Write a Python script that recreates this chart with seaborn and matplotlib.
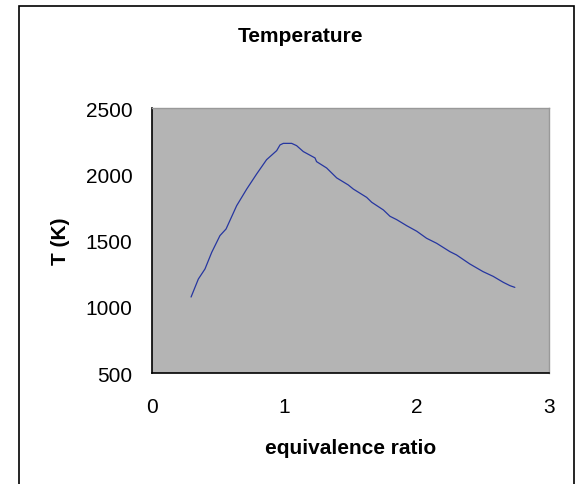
import numpy as np
import pandas as pd
import matplotlib
matplotlib.use('Agg')
import matplotlib.pyplot as plt
import matplotlib.patches as patches
import seaborn as sns

# 데이터
phi = [0.297, 0.352, 0.402, 0.453, 0.515, 0.561, 0.641, 0.717, 0.792, 0.867,
       0.943, 0.968, 0.993, 1.056, 1.093, 1.144, 1.232, 1.244, 1.32, 1.396,
       1.483, 1.521, 1.622, 1.66, 1.748, 1.798, 1.848, 1.924, 2.0, 2.074,
       2.15, 2.25, 2.30, 2.40, 2.50, 2.577, 2.653, 2.703, 2.74]
temp = [1074, 1210, 1286, 1412, 1538, 1588, 1764, 1890, 2004, 2112,
        2180, 2223, 2235, 2235, 2218, 2173, 2125, 2097, 2049, 1974,
        1921, 1890, 1827, 1790, 1732, 1684, 1659, 1613, 1571, 1518,
        1480, 1417, 1392, 1324, 1266, 1230, 1185, 1160, 1147]
x_ticks = [0, 1, 2, 3]
y_ticks = [500, 1000, 1500, 2000, 2500]

df = pd.DataFrame({'phi': phi, 'T': temp})

sns.set_style('white')
plt.rcParams['font.family'] = ['Liberation Sans', 'DejaVu Sans']
plt.rcParams['text.color'] = 'black'
plt.rcParams['axes.labelcolor'] = 'black'
plt.rcParams['xtick.color'] = 'black'
plt.rcParams['ytick.color'] = 'black'

fig = plt.figure(figsize=(5.76, 4.85), dpi=100)
ax = fig.add_axes([151.7 / 576, 1 - 374 / 485, (549.3 - 151.7) / 576, (374 - 109.3) / 485])
ax.set_facecolor('#b4b4b4')

sns.lineplot(data=df, x='phi', y='T', ax=ax, color='#2636a0', linewidth=0.9)

ax.set_xlim(0, 3)
ax.set_ylim(500, 2500)
ax.set_xticks(x_ticks)
ax.set_yticks(y_ticks)
ax.tick_params(axis='both', labelsize=15, length=6, width=1, direction='out',
               color='black', labelcolor='black')
ax.tick_params(axis='x', pad=11)
ax.tick_params(axis='y', pad=8)

# 축선: 왼쪽/아래 검정, 위/오른쪽 회색
for side in ['left', 'bottom']:
    ax.spines[side].set_color('black')
    ax.spines[side].set_linewidth(1.2)
for side in ['top', 'right']:
    ax.spines[side].set_color('#999999')
    ax.spines[side].set_linewidth(1.0)

ax.set_xlabel('equivalence ratio', fontsize=15, fontweight='bold', labelpad=16, color='black')
ax.set_ylabel('T (K)', fontsize=15, fontweight='bold', labelpad=11, color='black')

fig.text(300 / 576, 1 - 37 / 485, 'Temperature', ha='center', va='center',
         fontsize=15, fontweight='bold', color='black')

# 차트 영역 테두리
border = patches.Rectangle((19 / 576, -0.02), (574 - 19) / 576, 1.02 - 7 / 485,
                           transform=fig.transFigure, fill=False,
                           edgecolor='black', linewidth=1.2, clip_on=False)
fig.patches.append(border)

fig.savefig('out.png', dpi=100)
